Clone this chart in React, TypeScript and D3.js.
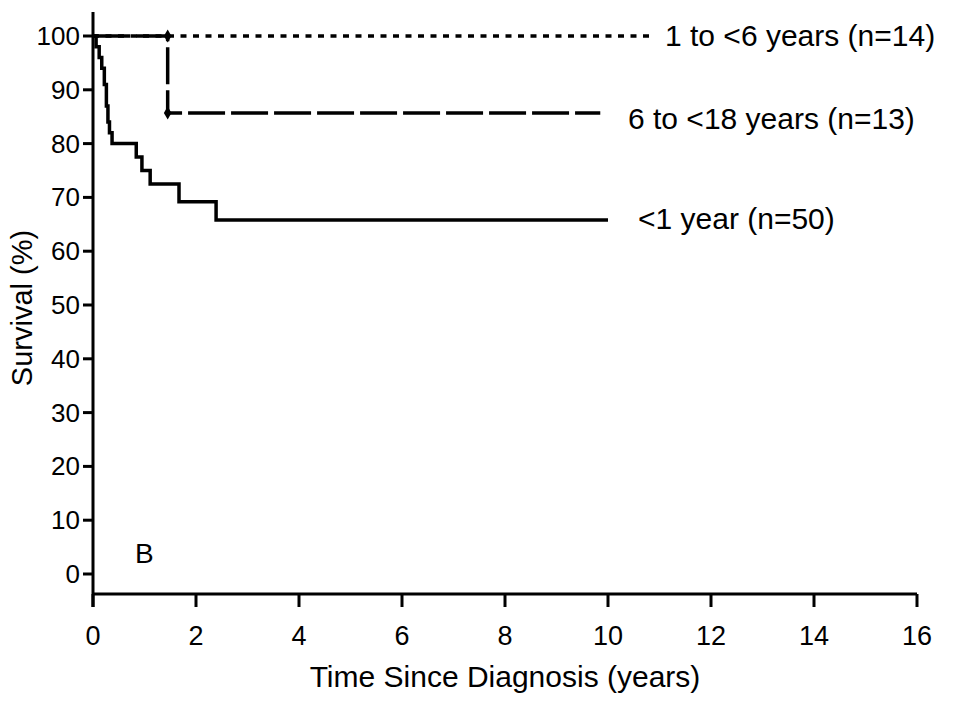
import React from "react";
import * as d3 from "d3";

const xTicks = [0, 2, 4, 6, 8, 10, 12, 14, 16];
const yTicks = [0, 10, 20, 30, 40, 50, 60, 70, 80, 90, 100];

// <1 year (n=50): KM step points [time, survival]
const infantTimes = [0, 0.06, 0.12, 0.17, 0.22, 0.26, 0.29, 0.32, 0.37, 0.84, 0.95, 1.11, 1.67, 2.39, 10.0];
const infantSurv = [100, 98, 96, 94, 91, 87, 84, 82, 80, 77.5, 75, 72.5, 69.2, 65.8, 65.8];

// 6 to <18 years (n=13)
const teenTimes = [0, 1.45, 9.85];
const teenSurv = [100, 85.7, 85.7];

// 1 to <6 years (n=14)
const childTimes = [0, 10.8];
const childSurv = [100, 100];

const censorTimes = [1.45, 1.45];
const censorSurv = [100, 85.7];

const seriesLabels = ["1 to <6 years (n=14)", "6 to <18 years (n=13)", "<1 year (n=50)"];

export default function App() {
  const W = 953, H = 702;
  const x = d3.scaleLinear().domain([0, 16]).range([93, 917]);
  const y = d3.scaleLinear().domain([0, 100]).range([574, 36]);
  const font = "'Liberation Sans', Arial, sans-serif";
  const line = d3.line<[number, number]>().x(d => x(d[0])).y(d => y(d[1])).curve(d3.curveStepAfter);
  const infant = infantTimes.map((t, i) => [t, infantSurv[i]] as [number, number]);
  const teen = teenTimes.map((t, i) => [t, teenSurv[i]] as [number, number]);
  const child = childTimes.map((t, i) => [t, childSurv[i]] as [number, number]);
  const axisY = 594;
  return (
    <svg width={W} height={H} style={{ position: "absolute", left: 0, top: 0, background: "#fff" }} fontFamily={font}>
      <rect width={W} height={H} fill="#fff" />
      {/* axes */}
      <line x1={x(0)} x2={x(0)} y1={12} y2={607} stroke="#000" strokeWidth={3} />
      <line x1={x(0)} x2={x(16)} y1={axisY} y2={axisY} stroke="#000" strokeWidth={3} />
      {xTicks.map(t => (
        <g key={"x" + t}>
          <line x1={x(t)} x2={x(t)} y1={axisY} y2={607} stroke="#000" strokeWidth={3} />
          <text x={x(t)} y={645} fontSize={27} textAnchor="middle">{t}</text>
        </g>
      ))}
      {yTicks.map(t => (
        <g key={"y" + t}>
          <line x1={83} x2={x(0)} y1={y(t)} y2={y(t)} stroke="#000" strokeWidth={3} />
          <text x={80} y={y(t) + 9} fontSize={26} textAnchor="end">{t}</text>
        </g>
      ))}
      <text x={505} y={687} fontSize={30} textAnchor="middle">Time Since Diagnosis (years)</text>
      <text transform="translate(32,308) rotate(-90)" fontSize={29} textAnchor="middle">Survival (%)</text>
      <text x={135} y={563} fontSize={28}>B</text>
      {/* curves */}
      <path d={line(child) || ""} fill="none" stroke="#000" strokeWidth={3.5} strokeDasharray="6,6.5" />
      <path d={line(teen) || ""} fill="none" stroke="#000" strokeWidth={3.5} strokeDasharray="37,6" />
      <path d={line(infant) || ""} fill="none" stroke="#000" strokeWidth={3.5} />
      {censorTimes.map((t, i) => (
        <path key={"c" + i} d={d3.symbol(d3.symbolDiamond, 50)() || ""} transform={`translate(${x(t)},${y(censorSurv[i])})`} fill="#000" />
      ))}
      <text x={665} y={46} fontSize={30}>{seriesLabels[0]}</text>
      <text x={628} y={129} fontSize={30}>{seriesLabels[1]}</text>
      <text x={638} y={229} fontSize={30}>{seriesLabels[2]}</text>
    </svg>
  );
}
